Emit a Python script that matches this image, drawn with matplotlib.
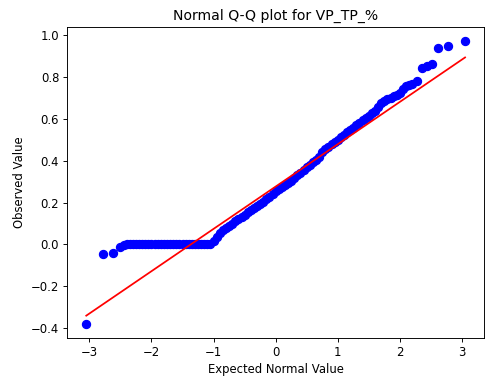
"""
Normal Q-Q plot of VP_TP_% (values read off the reference picture).
"""

import matplotlib
matplotlib.use('Agg')
import numpy as np
import matplotlib.pyplot as plt

# lower tail
low_x = [-3.05, -2.78, -2.62, -2.50, -2.44]
low_y = [-0.378, -0.045, -0.042, -0.010, -0.002]

# flat run of zeros
flat_x = [-2.40, -2.35, -2.30, -2.25, -2.20, -2.15, -2.10, -2.05, -2.00, -1.95,
          -1.90, -1.85, -1.80, -1.75, -1.70, -1.65, -1.60, -1.55, -1.50, -1.45,
          -1.40, -1.35, -1.30, -1.25, -1.20, -1.15, -1.10, -1.05]
flat_y = [0.0, 0.0, 0.0, 0.0, 0.0, 0.0, 0.0, 0.0, 0.0, 0.0,
          0.0, 0.0, 0.0, 0.0, 0.0, 0.0, 0.0, 0.0, 0.0, 0.0,
          0.0, 0.0, 0.0, 0.0, 0.0, 0.0, 0.0, 0.0]

# body of the distribution
mid_x = [-1.00, -0.95, -0.90, -0.85, -0.80, -0.75, -0.70, -0.65, -0.60, -0.55,
         -0.50, -0.45, -0.40, -0.35, -0.30, -0.25, -0.20, -0.15, -0.10, -0.05,
         0.00, 0.05, 0.10, 0.15, 0.20, 0.25, 0.30, 0.35, 0.40, 0.45,
         0.50, 0.55, 0.60, 0.65, 0.70, 0.75, 0.80, 0.85, 0.90, 0.95,
         1.00, 1.05, 1.10, 1.15, 1.20, 1.25, 1.30, 1.35, 1.40, 1.45,
         1.50, 1.55, 1.60, 1.65, 1.70, 1.75, 1.80, 1.85, 1.90, 1.95,
         2.00, 2.05, 2.10, 2.15, 2.20, 2.28]
mid_y = [0.015, 0.035, 0.055, 0.068, 0.080, 0.090, 0.100, 0.110, 0.120, 0.132,
         0.143, 0.153, 0.163, 0.174, 0.185, 0.195, 0.205, 0.216, 0.228, 0.242,
         0.255, 0.265, 0.275, 0.285, 0.295, 0.305, 0.318, 0.330, 0.343, 0.358,
         0.372, 0.382, 0.392, 0.405, 0.420, 0.440, 0.455, 0.468, 0.480, 0.490,
         0.500, 0.513, 0.525, 0.537, 0.548, 0.559, 0.570, 0.583, 0.595, 0.605,
         0.615, 0.627, 0.640, 0.658, 0.675, 0.688, 0.695, 0.702, 0.708, 0.715,
         0.725, 0.745, 0.758, 0.763, 0.768, 0.780]

# upper tail
high_x = [2.36, 2.44, 2.51, 2.62, 2.78, 3.05]
high_y = [0.843, 0.852, 0.862, 0.940, 0.948, 0.971]

# fitted reference line
slope = 0.2024
intercept = 0.277

theo = np.array(low_x + flat_x + mid_x + high_x)
obs = np.array(low_y + flat_y + mid_y + high_y)

fig = plt.figure(figsize=(486/84, 376/84), dpi=84)
ax = fig.add_subplot(111)
fig.subplots_adjust(left=0.1385, right=0.9959, bottom=0.1020, top=0.9274)

ax.plot(theo, obs, 'bo', markersize=7)
ends = np.array([theo.min(), theo.max()])
ax.plot(ends, slope*ends + intercept, 'r-')

ax.set_title('Normal Q-Q plot for VP_TP_%')
ax.set_xlabel('Expected Normal Value')
ax.set_ylabel('Observed Value')

fig.savefig('out.png', dpi=84)
